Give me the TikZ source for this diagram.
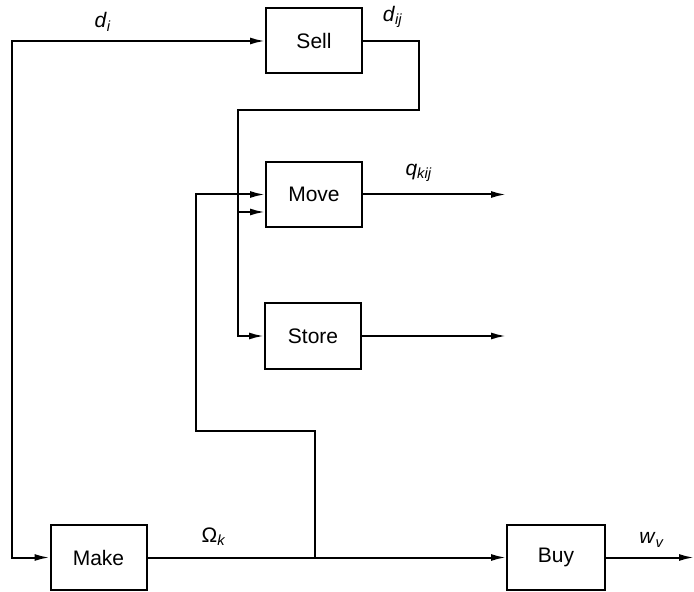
\documentclass[tikz,border=0pt]{standalone}
\usepackage{fontspec}
\setmainfont{Liberation Sans}
\usetikzlibrary{arrows.meta}
\newcommand{\varlab}[2]{\textit{#1}\textsubscript{\textit{#2}}}
\begin{document}
\begin{tikzpicture}[x=0.5pt,y=-0.5pt,
  blk/.style={draw,line width=1pt,minimum width=48pt,minimum height=32.5pt,
    inner sep=0pt,font=\fontsize{10.5}{12}\selectfont},
  tip/.tip={Latex[length=7.5pt,width=3.5pt]},
  flow/.style={line width=1pt,-tip},
  lab/.style={font=\fontsize{10.5}{12}\selectfont,inner sep=0pt}]
\useasboundingbox (0,0) rectangle (694,592);

% process boxes
\node[blk] (sell)  at (314,41)    {Sell};
\node[blk] (move)  at (314,194.5) {Move};
\node[blk] (store) at (313,336)   {Store};
\node[blk] (make)  at (98.5,557.5){Make};
\node[blk,minimum width=49pt] (buy) at (556,557.5) {Buy};

% routing points
\coordinate (left)  at (12,300);
\coordinate (dcor)  at (419,110);
\coordinate (bus)   at (238,110);
\coordinate (mvin)  at (265,212);
\coordinate (jn)    at (315,557.5);
\coordinate (lp1)   at (315,431);
\coordinate (lp2)   at (196,431);
\coordinate (qout)  at (506,194.5);
\coordinate (sout)  at (506,336);
\coordinate (wout)  at (694,557.5);

% demand loop: d_i feeds both Make and Sell
\draw[flow,tip-tip] (make.west) -| (left) |- (sell.west);

% d_ij from Sell to Move and Store
\draw[flow] (sell.east) -| (dcor) -- (bus) |- (store.west);
\draw[flow] (bus |- mvin) -- (mvin);

% Omega_k from Make to Buy, with feedback to Move
\draw[flow] (make.east) -- (buy.west);
\draw[flow] (jn) -- (lp1) -- (lp2) |- (move.west);

% outputs
\draw[flow] (move.east) -- (qout);
\draw[flow] (store.east) -- (sout);
\draw[flow] (buy.east) -- (wout);

% flow labels
\node[lab] (ldi)  at (103,22)  {\varlab{d}{i}};
\node[lab] (ldij) at (393,17)  {\varlab{d}{ij}};
\node[lab] (lq)   at (419,173) {\varlab{q}{kij}};
\node[lab] (lom)  at (214,537) {Ω\textsubscript{\textit{k}}};
\node[lab] (lw)   at (652,540) {\varlab{w}{v}};
\end{tikzpicture}
\end{document}
